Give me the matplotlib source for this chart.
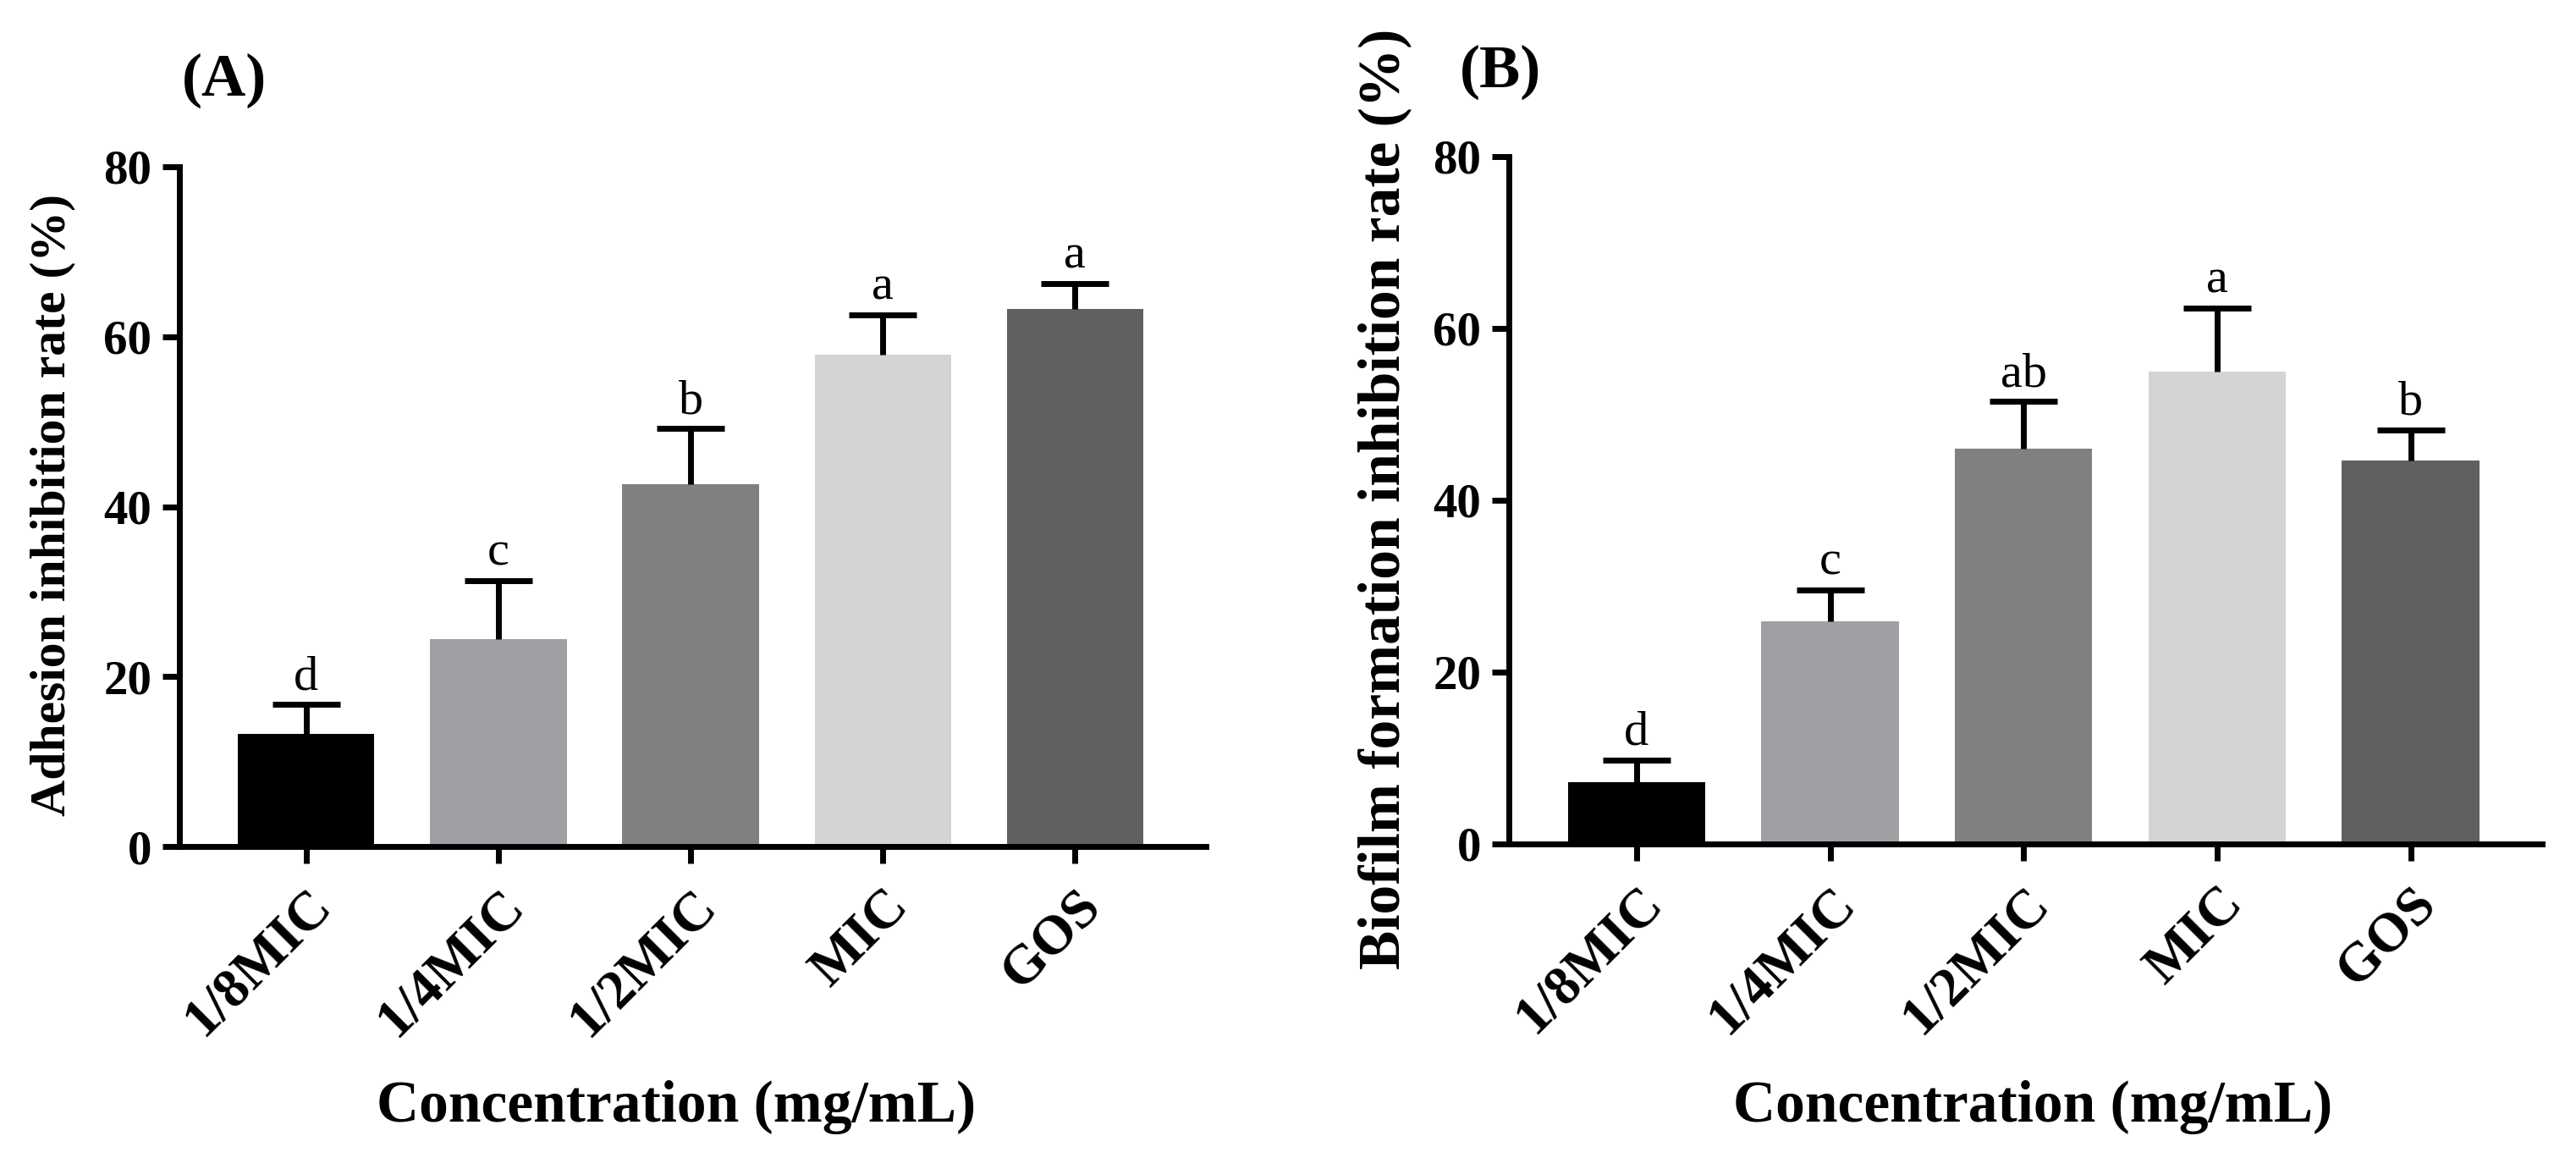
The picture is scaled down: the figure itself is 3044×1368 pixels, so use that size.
import numpy as np
import matplotlib
matplotlib.use("Agg")
import matplotlib.pyplot as plt

plt.rcParams['font.family'] = ['Liberation Serif', 'DejaVu Serif']

# Datos
grupos = ['1/8MIC', '1/4MIC', '1/2MIC', 'MIC', 'GOS']
colores = ['#000000', '#a0a0a4', '#808080', '#d4d4d4', '#606060']

adhesion = [13.3, 24.4, 42.6, 57.9, 63.3]
adhesion_err = [3.4, 6.9, 6.6, 4.7, 3.0]
adhesion_letras = ['d', 'c', 'b', 'a', 'a']

biofilm = [7.2, 25.9, 46.0, 55.0, 44.6]
biofilm_err = [2.6, 3.7, 5.5, 7.4, 3.6]
biofilm_letras = ['d', 'c', 'ab', 'a', 'b']

fig = plt.figure(figsize=(30.44, 13.68), dpi=100)
axA = fig.add_axes([0.0696, 0.2690, 0.3985, 0.5870])
axB = fig.add_axes([0.5857, 0.2712, 0.4012, 0.5936])


def panel(ax, vals, errs, letras, ylabel, ylab_size, ylab_x, xlab_x):
    x = np.arange(len(grupos))
    ax.bar(x, vals, width=0.71, color=colores, zorder=2)
    # solo la barra de error superior (estilo GraphPad)
    eb = ax.errorbar(x, vals, yerr=[np.zeros(len(vals)), errs], fmt='none',
                     ecolor='black', elinewidth=5, capsize=29, capthick=5,
                     zorder=3)
    eb[1][0].set_visible(False)
    for xi, v, e, l in zip(x, vals, errs, letras):
        ax.text(xi, v + e + 0.6, l, ha='center', va='bottom', fontsize=42)

    ax.set_xlim(-0.66, 4.68)
    ax.set_ylim(0, 80)
    ax.set_yticks([0, 20, 40, 60, 80])
    ax.set_xticks(x)
    ax.set_xticklabels(grupos, rotation=45, ha='right', va='top',
                       rotation_mode='anchor', fontsize=47, fontweight='bold')
    for t in ax.get_yticklabels():
        t.set_fontsize(41)
        t.set_fontweight('bold')
    ax.tick_params(axis='both', direction='out', length=14.4, width=5, pad=9)
    ax.tick_params(axis='x', pad=14)

    for s in ['top', 'right']:
        ax.spines[s].set_visible(False)
    for s in ['left', 'bottom']:
        ax.spines[s].set_linewidth(5)

    ax.set_ylabel(ylabel, fontsize=ylab_size, fontweight='bold')
    ax.yaxis.label.set_va('center')
    ax.yaxis.set_label_coords(ylab_x, 0.502)
    ax.set_xlabel('Concentration (mg/mL)', fontsize=50, fontweight='bold')
    ax.xaxis.label.set_va('center')
    ax.xaxis.set_label_coords(xlab_x, -0.383)


panel(axA, adhesion, adhesion_err, adhesion_letras,
      'Adhesion inhibition rate (%)', 43, -0.123, 0.484)
panel(axB, biofilm, biofilm_err, biofilm_letras,
      'Biofilm formation inhibition rate (%)', 50, -0.120, 0.507)

fig.text(0.087, 0.9306, '(A)', fontsize=52, fontweight='bold',
         ha='center', va='center')
fig.text(0.5825, 0.9379, '(B)', fontsize=52, fontweight='bold',
         ha='center', va='center')

fig.savefig('out.png', dpi=100)
